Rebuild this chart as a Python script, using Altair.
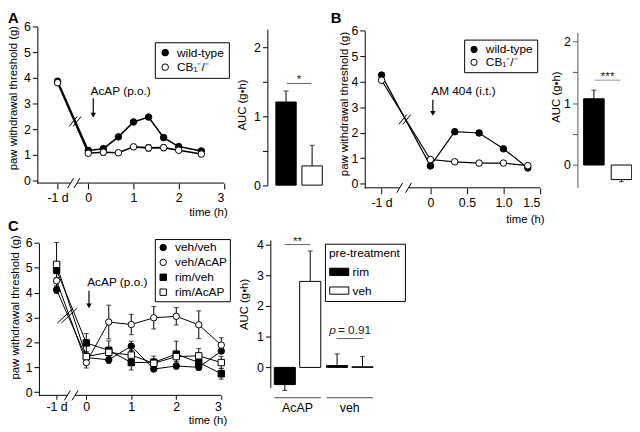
import altair as alt
import pandas as pd

# ---------------- data ----------------
GENO = ["wild-type", "CB\u2081\u207b/\u207b"]

A_TIMES = ["-1 d", 0, 1/3, 2/3, 1, 4/3, 5/3, 2, 2.5]
A_WT = [3.87, 1.17, 1.24, 1.70, 2.28, 2.47, 1.67, 1.32, 1.15]
A_WT_SEM = [0.06, 0.10, 0.10, 0.06, 0.10, 0.07, 0.06, 0.05, 0.10]
A_KO = [3.81, 1.06, 1.10, 1.08, 1.31, 1.27, 1.28, 1.18, 1.03]
A_KO_SEM = [0.05, 0.08, 0.12, 0.08, 0.10, 0.13, 0.12, 0.07, 0.10]
A_AUC = [1.21, 0.28]
A_AUC_SEM = [0.16, 0.30]

B_TIMES = ["-1 d", 0, 1/3, 2/3, 1, 4/3]
B_WT = [4.26, 0.70, 2.04, 1.99, 1.37, 0.62]
B_WT_SEM = [0.10, 0.06, 0.10, 0.08, 0.08, 0.05]
B_KO = [4.06, 0.95, 0.86, 0.81, 0.81, 0.71]
B_KO_SEM = [0.06, 0.05, 0.04, 0.04, 0.05, 0.05]
B_AUC = [1.07, -0.235]
B_AUC_SEM = [0.14, 0.035]

C_TIMES = ["-1 d", 0, 0.5, 1, 1.5, 2, 2.5, 3]
C_SERIES = ["veh/veh", "veh/AcAP", "rim/veh", "rim/AcAP"]
C_VEH_VEH = [4.12, 1.39, 1.30, 1.85, 0.93, 1.05, 1.00, 1.65]
C_VEH_VEH_SEM = [0.15, 0.12, 0.15, 0.20, 0.08, 0.12, 0.10, 0.10]
C_VEH_ACAP = [4.48, 1.19, 2.82, 2.72, 2.99, 3.05, 2.71, 1.89]
C_VEH_ACAP_SEM = [0.30, 0.22, 0.68, 0.41, 0.45, 0.35, 0.56, 0.30]
C_RIM_VEH = [4.91, 1.98, 1.68, 1.19, 1.20, 1.53, 1.19, 0.74]
C_RIM_VEH_SEM = [0.30, 0.38, 0.38, 0.30, 0.25, 0.52, 0.30, 0.22]
C_RIM_ACAP = [5.14, 1.43, 1.60, 1.49, 1.16, 1.43, 1.46, 1.19]
C_RIM_ACAP_SEM = [0.88, 0.20, 0.20, 0.18, 0.18, 0.20, 0.30, 0.25]

C_AUC_TREAT = ["AcAP", "veh"]
C_AUC_PRE = ["rim", "veh"]
C_AUC_RIM = [-0.56, 0.06]
C_AUC_RIM_SEM = [0.19, 0.38]
C_AUC_VEH = [2.80, 0.02]
C_AUC_VEH_SEM = [0.99, 0.34]

# ---------------- layout ----------------
OFF = 8
W, H = 632, 424
FONT = "Liberation Sans, Arial, Helvetica, sans-serif"


def pg(v):
    return v - OFF


def lin(dom, p0, p1):
    return alt.Scale(type="linear", domain=dom, range=[pg(p0), pg(p1)], nice=False, zero=False)


def band(dom, p0, p1, inner=0.0):
    return alt.Scale(type="band", domain=dom, range=[pg(p0), pg(p1)], paddingInner=inner, paddingOuter=0)


def series_frame(times, day_pos, names, means, sems):
    rows = []
    for name, ms, ss in zip(names, means, sems):
        for t, m, s in zip(times, ms, ss):
            rows.append({"group": name, "x": day_pos if t == "-1 d" else float(t),
                         "y": m, "lo": m - s, "hi": m + s})
    return pd.DataFrame(rows)


def slashes(centers, kx, ky, half, sep):
    """Pairs of short '/' strokes (break marks) around data-space centres."""
    rows = []
    hx, hy = half
    for cx, cy in centers:
        for s in (-sep / 2, sep / 2):
            rows.append({"x": cx + (s - hx) / kx, "x2": cx + (s + hx) / kx,
                         "y": cy - hy / ky, "y2": cy + hy / ky})
    return pd.DataFrame(rows)


def line_panel(df, xdom, xpg, ydom, ypg, xaxis, yaxis, fill_sc, shape_sc, legend, lw, msize,
               segs, gaps, brk, brk_half, note, arrow, letter, cap=5):
    xsc = lin(xdom, *xpg)
    ysc = lin(ydom, *ypg)
    kx = (xpg[1] - xpg[0]) / (xdom[1] - xdom[0])
    ky = (ypg[0] - ypg[1]) / (ydom[1] - ydom[0])   # pixels per unit upward
    y0 = ydom[0]

    def X(f, ax=None):
        return alt.X(f, type="quantitative", scale=xsc, axis=ax)

    def Y(f, ax=None):
        return alt.Y(f, type="quantitative", scale=ysc, axis=ax)

    seg_df = pd.DataFrame({"x": [s[0] for s in segs], "x2": [s[1] for s in segs], "y": [y0] * len(segs)})
    axis_line = alt.Chart(seg_df).mark_rule(color="black", strokeWidth=1).encode(X("x"), x2="x2", y=Y("y"))
    rows = []
    for gx in gaps:
        rows.append({"x": gx - 3 / kx, "x2": gx + 3 / kx, "y": y0 - 5 / ky, "y2": y0 + 5 / ky})
    axis_brk = alt.Chart(pd.DataFrame(rows)).mark_rule(color="black", strokeWidth=1).encode(
        X("x"), x2="x2", y=Y("y"), y2="y2")

    base = alt.Chart(df)
    lines = base.mark_line(color="black", strokeWidth=lw).encode(X("x"), Y("y"), detail="group:N")
    err = base.mark_rule(color="black", strokeWidth=1).encode(X("x"), Y("lo"), y2="hi")
    caps = base.transform_fold(["lo", "hi"], as_=["k", "v"]).mark_tick(
        orient="horizontal", size=cap, thickness=1, color="black").encode(X("x"), Y("v"))
    enc = dict(fill=alt.Fill("group:N", scale=fill_sc, legend=legend),
               stroke=alt.Stroke("group:N", scale=alt.Scale(domain=fill_sc.domain,
                                                             range=["black"] * len(fill_sc.domain)),
                                 legend=legend))
    if shape_sc is not None:
        enc["shape"] = alt.Shape("group:N", scale=shape_sc, legend=legend)
    pts = base.mark_point(filled=False, opacity=1, strokeWidth=1, size=msize,
                          shape="circle").encode(X("x", xaxis), Y("y", yaxis), **enc)

    line_brk = alt.Chart(slashes([brk], kx, ky, brk_half, 4)).mark_rule(
        color="black", strokeWidth=1).encode(X("x"), x2="x2", y=Y("y"), y2="y2")

    note_df = pd.DataFrame({"x": [note[0]], "y": [note[1]], "t": [note[2]]})
    note_t = alt.Chart(note_df).mark_text(align="left", baseline="middle", fontSize=12, fill="black").encode(
        X("x"), Y("y"), text="t:N")
    arr_df = pd.DataFrame({"x": [arrow[0]], "y": [arrow[1]], "y2": [arrow[2]], "yh": [arrow[3]]})
    arr_l = alt.Chart(arr_df).mark_rule(color="black", strokeWidth=1.2).encode(X("x"), Y("y"), y2="y2")
    arr_h = alt.Chart(arr_df).mark_point(shape="triangle-down", filled=True, opacity=1, color="black",
                                         size=30).encode(X("x"), Y("yh"))
    let_df = pd.DataFrame({"x": [letter[0]], "y": [letter[1]], "t": [letter[2]]})
    let_t = alt.Chart(let_df).mark_text(align="left", baseline="top", fontSize=15, fontWeight="bold",
                                        fill="black").encode(X("x"), Y("y"), text="t:N")
    return [axis_line, axis_brk, lines, err, caps, pts, line_brk, note_t, arr_l, arr_h, let_t]


def auc_panel(groups, cats, values, sems, xsc, offsc, ysc, yaxis, xaxis, fills, legend, sigs, texts,
              underline=None, ink="#222"):
    rows = []
    for g, vals, ss in zip(groups, values, sems):
        for c, v, s in zip(cats, vals, ss):
            rows.append({"grp": g, "cat": c, "v": v, "e": v + (s if v >= 0 else -s)})
    df = pd.DataFrame(rows)

    def Xg(ax=None):
        return alt.X("grp:N", scale=xsc, axis=ax)

    def Y(f, ax=None):
        return alt.Y(f, type="quantitative", scale=ysc, axis=ax)

    def off():
        return alt.XOffset("cat:N", scale=offsc)

    base = alt.Chart(df)
    bars = base.mark_bar(stroke="black", strokeWidth=1).encode(
        Xg(xaxis), xOffset=off(), y=Y("v", yaxis), y2=alt.datum(0),
        fill=alt.Fill("cat:N", scale=alt.Scale(domain=cats, range=fills), legend=legend))
    err = base.mark_rule(color="black", strokeWidth=1).encode(Xg(), xOffset=off(), y=Y("v"), y2="e")
    cap = base.mark_tick(orient="horizontal", size=5, thickness=1, color="black").encode(
        Xg(), xOffset=off(), y=Y("e"))
    layers = [bars, err, cap]
    for g, yv, ln in sigs:
        d = pd.DataFrame({"grp": [g], "y": [yv]})
        layers.append(alt.Chart(d).mark_tick(orient="horizontal", size=ln, thickness=1, color=ink).encode(
            Xg(), y=Y("y")))
    for g, yv, txt, dx, align, style in texts:
        d = pd.DataFrame({"grp": [g], "y": [yv], "t": [txt]})
        layers.append(alt.Chart(d).mark_text(align=align, baseline="alphabetic", dx=dx, fontSize=12,
                                             fontStyle=style, fill="#222").encode(Xg(), y=Y("y"), text="t:N"))
    if underline is not None:
        d = pd.DataFrame({"grp": groups, "y": [underline[0]] * len(groups)})
        layers.append(alt.Chart(d).mark_tick(orient="horizontal", size=underline[1], thickness=1,
                                             color="black").encode(Xg(), y=Y("y")))
    return layers


def yax(offset_page, values, title, tx, ty, label_expr=None, fmt="d", color="black"):
    kw = dict(orient="left", offset=-pg(offset_page), values=values, title=title, titleX=tx, titleY=pg(ty),
              titleAngle=270, titleAlign="center", titleBaseline="middle", tickSize=5, labelPadding=2,
              domainColor=color, tickColor=color)
    if label_expr:
        kw["labelExpr"] = label_expr
    else:
        kw["format"] = fmt
    return alt.Axis(**kw)


def xax(axis_page_y, values, label_expr, title_x, title_y, tick=5, pad=3):
    return alt.Axis(orient="bottom", offset=pg(axis_page_y) - H, values=values, labelExpr=label_expr,
                    domain=False, tickSize=tick, labelPadding=pad, title="time (h)",
                    titleX=pg(title_x), titleY=title_y, titleAlign="center", titleBaseline="alphabetic")


def sym_legend(lx, ly, pad, rowpad, size, stype=None):
    kw = dict(title=None, orient="none", legendX=pg(lx), legendY=pg(ly), strokeColor="black", padding=pad,
              rowPadding=rowpad, labelFontSize=12, symbolSize=size, symbolStrokeColor="black",
              symbolStrokeWidth=1, labelOffset=6)
    if stype:
        kw["symbolType"] = stype
    return alt.Legend(**kw)


AUC_EXPR = "datum.value % 1 == 0 ? format(datum.value, 'd') : ''"
Y_VALUES = [0, 1, 2, 3, 4, 5, 6]

# ---------------- panel A ----------------
DAY_A = -0.68
panelA = line_panel(
    series_frame(A_TIMES, DAY_A, GENO, [A_WT, A_KO], [A_WT_SEM, A_KO_SEM]),
    [-1.127, 3], (37.7, 226.7), [-0.1, 6], (182.6, 24),
    xax(182.6, [DAY_A, 0, 1, 2, 3], "datum.value < -0.5 ? '-1 d' : format(datum.value, 'd')", 210.5, 33, 6, 3),
    yax(37.7, Y_VALUES, "paw withdrawal threshold (g)", 14 - 37.7, 96),
    alt.Scale(domain=GENO, range=["black", "white"]), None,
    sym_legend(156.7, 40, 4.5, 2.7, 44, "circle"), 1.6, 44,
    [(-1.127, -0.39), (-0.25, 3)], [-0.39, -0.25], (-0.29, 2.3), (4, 5),
    (0.05, 3.5, "AcAP (p.o.)"), (0.11, 3.2, 2.6, 2.55), (-1.775, 6.615, "A"))

panelAauc = auc_panel(
    ["A"], GENO, [A_AUC], [A_AUC_SEM],
    band(["A"], 279.3, 326.3), alt.Scale(type="band", domain=GENO, paddingInner=0.22, paddingOuter=0),
    lin([0, 2.27], 184.7, 26.7),
    yax(270.7, [0, 0.5, 1, 1.5, 2], "AUC (g\u2022h)", 246 - 270.7, 103, AUC_EXPR), None,
    ["black", "white"], None,
    [("A", 1.48, 25)], [("A", 1.49, "*", 0, "center", "normal")])

# ---------------- panel B ----------------
DAY_B = -0.668
panelB = line_panel(
    series_frame(B_TIMES, DAY_B, GENO, [B_WT, B_KO], [B_WT_SEM, B_KO_SEM]),
    [-0.9, 1.5], (369.2, 546.8), [-0.16, 6], (187.4, 28.3),
    xax(187.4, [DAY_B, 0, 0.5, 1, 1.5],
        "datum.value < -0.5 ? '-1 d' : (datum.value == 0 ? '0' : format(datum.value, '.1f'))", 531.5, 35.4, 6, 3),
    yax(369.3, Y_VALUES, "paw withdrawal threshold (g)", 349 - 369.3, 102),
    alt.Scale(domain=GENO, range=["black", "white"]), None,
    sym_legend(470, 37.3, 4, 1, 40, "circle"), 1.2, 44,
    [(-0.9, -0.42), (-0.30, 1.5)], [-0.42, -0.30], (-0.35, 2.52), (4, 5),
    (0.012, 3.65, "AM 404 (i.t.)"), (0.034, 3.29, 2.85, 2.76), (-1.362, 6.787, "B"))

panelBauc = auc_panel(
    ["B"], GENO, [B_AUC], [B_AUC_SEM],
    band(["B"], 591, 639.7), alt.Scale(type="band", domain=GENO, paddingInner=0.255, paddingOuter=0),
    lin([-0.36, 2.14], 186.9, 30.1),
    yax(584.7, [0, 0.5, 1, 1.5, 2], "AUC (g\u2022h)", 563.3 - 584.7, 95, AUC_EXPR, color="#555"), None,
    ["black", "white"], None,
    [("B", 1.37, 26)], [("B", 1.375, "***", 0, "center", "normal")], ink="#666")

# ---------------- panel C ----------------
DAY_C = -0.66
panelC = line_panel(
    series_frame(C_TIMES, DAY_C, C_SERIES,
                 [C_VEH_VEH, C_VEH_ACAP, C_RIM_VEH, C_RIM_ACAP],
                 [C_VEH_VEH_SEM, C_VEH_ACAP_SEM, C_RIM_VEH_SEM, C_RIM_ACAP_SEM]),
    [-1.053, 3], (39.3, 224), [-0.13, 6], (397.6, 243.3),
    xax(397.6, [DAY_C, 0, 1, 2, 3], "datum.value < -0.5 ? '-1 d' : format(datum.value, 'd')", 210, 28.5, 4, 1),
    yax(39.3, Y_VALUES, "paw withdrawal threshold (g)", 16 - 39.3, 308),
    alt.Scale(domain=C_SERIES, range=["black", "white", "black", "white"]),
    alt.Scale(domain=C_SERIES, range=["circle", "circle", "square", "square"]),
    sym_legend(156.7, 239.3, 2.5, 3.1, 42), 1.0, 42,
    [(-1.053, -0.42), (-0.25, 3.0)], [-0.42, -0.25], (-0.42, 3.08), (8, 7.5),
    (0.02, 4.42, "AcAP (p.o.)"), (0.06, 4.08, 3.55, 3.47), (-1.739, 6.965, "C"))

legCauc = alt.Legend(title="pre-treatment", orient="none", legendX=pg(329), legendY=pg(244),
                     strokeColor="black", padding=4, rowPadding=2, titlePadding=2,
                     labelFontSize=12, titleFontSize=12, titleFontWeight="normal",
                     symbolType="M-1,-0.38H1V0.38H-1Z", symbolSize=372, symbolStrokeColor="black",
                     symbolStrokeWidth=1, labelOffset=3)
panelCauc = auc_panel(
    C_AUC_TREAT, C_AUC_PRE, [[C_AUC_RIM[0], C_AUC_VEH[0]], [C_AUC_RIM[1], C_AUC_VEH[1]]],
    [[C_AUC_RIM_SEM[0], C_AUC_VEH_SEM[0]], [C_AUC_RIM_SEM[1], C_AUC_VEH_SEM[1]]],
    band(C_AUC_TREAT, 277.7, 377.7, 0.11),
    alt.Scale(type="band", domain=C_AUC_PRE, paddingInner=0.17, paddingOuter=0),
    lin([-0.65, 4.15], 389.5, 240.2),
    yax(273.7, [0, 1, 2, 3, 4], "AUC (g\u2022h)", 247.5 - 273.7, 305),
    alt.Axis(orient="bottom", offset=pg(400) - H, domain=False, ticks=False, labelPadding=4,
             labelAngle=0, title=None, labelFontSize=12.5),
    ["black", "white"], legCauc,
    [("AcAP", 4.0, 26), ("veh", 0.94, 27)],
    [("AcAP", 4.0, "**", 0, "center", "normal"),
     ("veh", 1.10, "p", -14, "right", "italic"),
     ("veh", 1.10, "= 0.91", -12, "left", "normal")],
    underline=(-0.99, 47))

all_layers = panelA + panelAauc + panelB + panelBauc + panelC + panelCauc

chart = alt.layer(*all_layers).resolve_scale(
    x="independent", y="independent", xOffset="independent", fill="independent", shape="independent",
    stroke="independent"
).resolve_axis(x="independent", y="independent").resolve_legend(
    fill="independent", shape="independent", stroke="independent"
).properties(width=W, height=H, padding=0, autosize=alt.AutoSizeParams(type="none")
).configure_view(stroke=None).configure_axis(
    grid=False, labelFont=FONT, titleFont=FONT, labelFontSize=12.5, titleFontSize=11.5,
    titleFontWeight="normal", domainColor="black", tickColor="black", labelColor="black", titleColor="black"
).configure_legend(labelFont=FONT, titleFont=FONT, labelColor="black", titleColor="black"
).configure_text(font=FONT)

chart.save("out.html", embed_options={"renderer": "svg", "actions": False})
